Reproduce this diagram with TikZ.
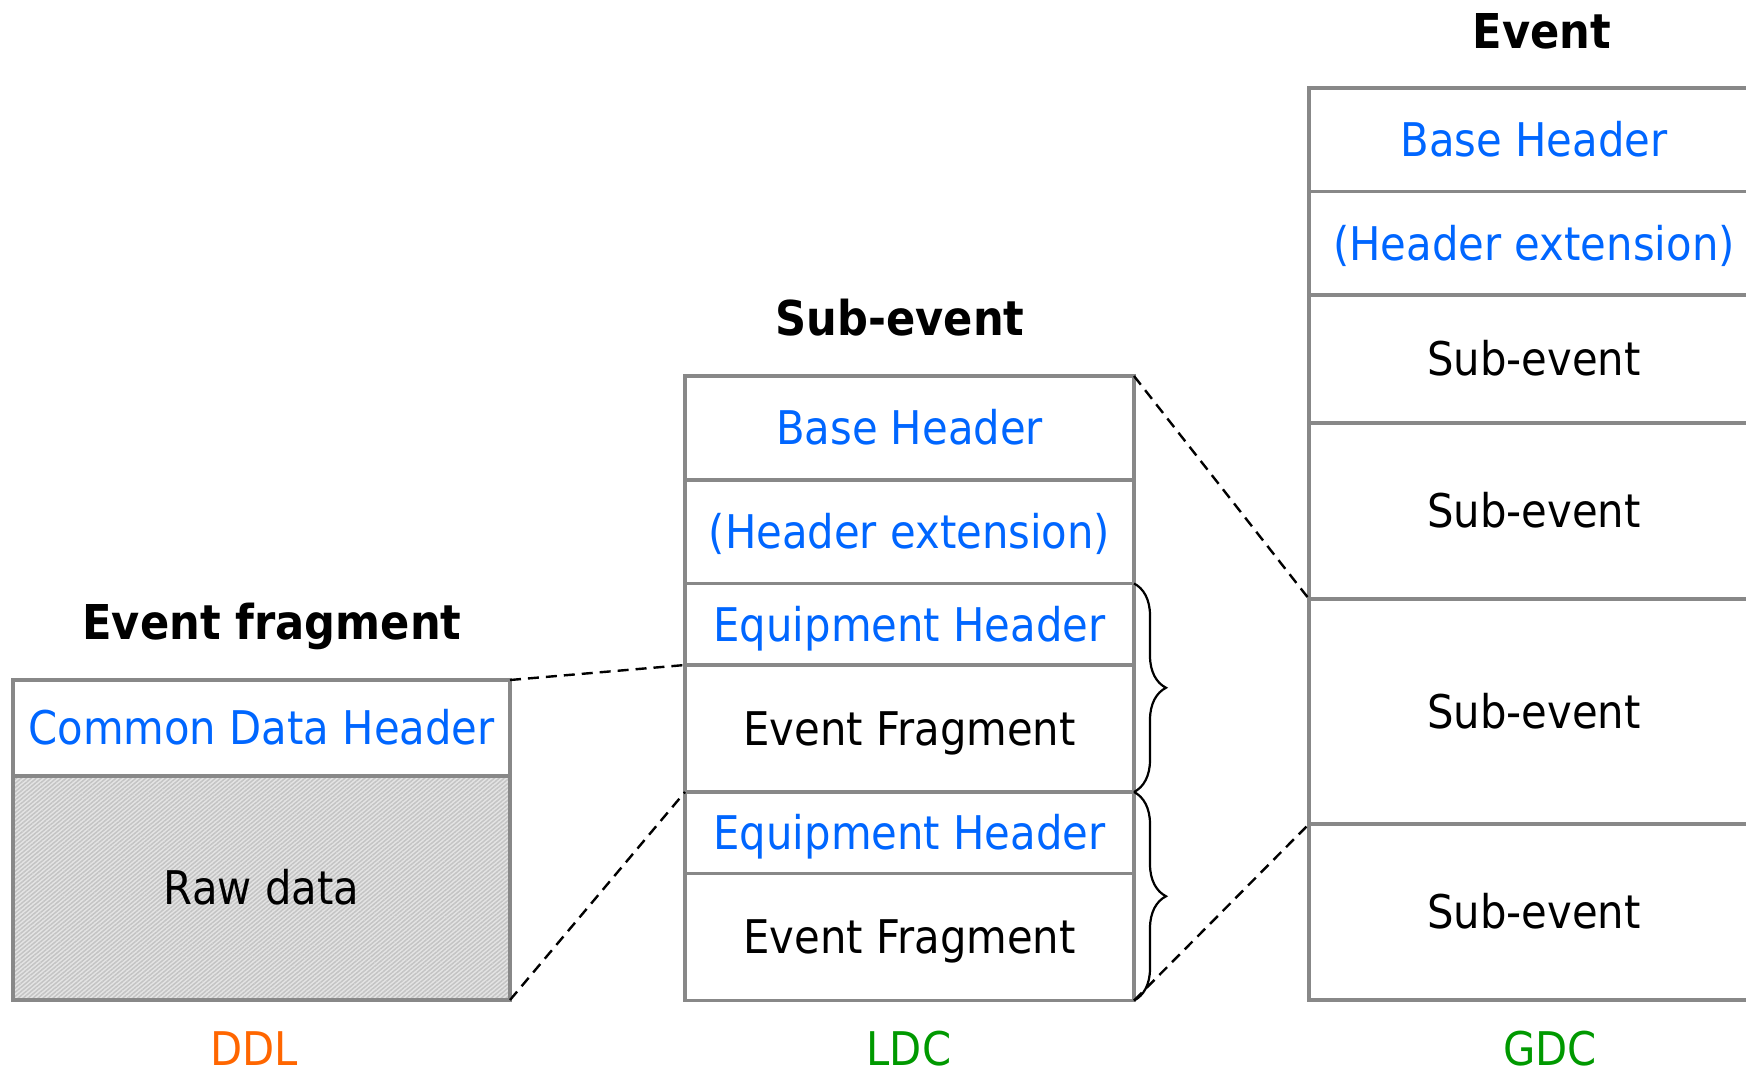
\documentclass[tikz,border=0pt]{standalone}
\usepackage{fontspec}
\setmainfont[FakeStretch=0.9]{DejaVu Sans}
\usetikzlibrary{patterns.meta,decorations.pathreplacing}
\definecolor{boxgray}{RGB}{136,136,136}
\definecolor{hdrblue}{RGB}{0,102,255}
\definecolor{ddlorange}{RGB}{255,102,0}
\definecolor{dcgreen}{RGB}{0,153,0}
\definecolor{hatchbg}{RGB}{228,228,228}
\definecolor{hatchfg}{RGB}{196,196,196}
\tikzset{
  cell/.style={draw=boxgray, line width=1.6pt, anchor=north west, inner sep=0pt, outer sep=0pt,
    font=\fontsize{23.2pt}{28pt}\selectfont, text height=16.9pt, text depth=0pt},
  hdr/.style={cell, text=hdrblue},
  rawcell/.style={cell, preaction={fill=hatchbg},
    pattern={Lines[angle=40,distance=1.6pt,line width=0.75pt]}, pattern color=hatchfg},
  titletext/.style={font=\fontsize{24pt}{29pt}\selectfont\bfseries, inner sep=0pt, text height=17.5pt, text depth=0pt},
  labeltext/.style={font=\fontsize{23.2pt}{28pt}\selectfont, inner sep=0pt, text height=16.9pt, text depth=0pt},
  zoomline/.style={dashed, dash pattern=on 5.5pt off 3.5pt, line width=1.2pt, black},
  bracedeco/.style={decorate, decoration={brace, amplitude=16pt}, line width=1.1pt, black}
}
\begin{document}
\begin{tikzpicture}[x=0.5pt,y=-0.5pt]
\useasboundingbox (0,0) rectangle (1746,1076);
\clip (0,0) rectangle (1746,1076);
% titles
\node[titletext] (tfrag) at (272,622) {Event fragment};
\node[titletext] (tsub) at (900,318) {Sub-event};
\node[titletext] (tevent) at (1542,31) {Event};
% left: event fragment (DDL)
\node[hdr, minimum width=248.5pt, minimum height=48pt] (cdh) at (13,680) {Common Data Header};
\node[rawcell, minimum width=248.5pt, minimum height=112pt] (raw) at (13,776) {Raw data};
% middle: sub-event (LDC)
\node[hdr, minimum width=224.5pt, minimum height=52pt] (mbh) at (685,376) {Base Header};
\node[hdr, minimum width=224.5pt, minimum height=51.75pt] (mhe) at (685,480) {(Header extension)};
\node[hdr, minimum width=224.5pt, minimum height=40.75pt] (eh1) at (685,583.5) {Equipment Header};
\node[cell, minimum width=224.5pt, minimum height=63.5pt] (ef1) at (685,665) {Event Fragment};
\node[hdr, minimum width=224.5pt, minimum height=40.75pt] (eh2) at (685,792) {Equipment Header};
\node[cell, minimum width=224.5pt, minimum height=63.5pt] (ef2) at (685,873.5) {Event Fragment};
% right: event (GDC)
\node[hdr, minimum width=225pt, minimum height=51.75pt] (gbh) at (1309,88) {Base Header};
\node[hdr, minimum width=225pt, minimum height=51.75pt] (ghe) at (1309,191.5) {(Header extension)};
\node[cell, minimum width=225pt, minimum height=64pt] (se1) at (1309,295) {Sub-event};
\node[cell, minimum width=225pt, minimum height=88pt] (se2) at (1309,423) {Sub-event};
\node[cell, minimum width=225pt, minimum height=112.5pt] (se3) at (1309,599) {Sub-event};
\node[cell, minimum width=225pt, minimum height=88pt] (se4) at (1309,824) {Sub-event};
% bottom labels
\node[labeltext, text=ddlorange] (ddl) at (254,1049) {DDL};
\node[labeltext, text=dcgreen] (ldc) at (909,1049) {LDC};
\node[labeltext, text=dcgreen] (gdc) at (1550,1049) {GDC};
% zoom connectors
\draw[zoomline] (cdh.north east) -- (ef1.north west);
\draw[zoomline] (raw.south east) -- (ef1.south west);
\draw[zoomline] (mbh.north east) -- (se3.north west);
\draw[zoomline] (ef2.south east) -- (se3.south west);
% braces
\draw[bracedeco] (eh1.north east) -- (ef1.south east);
\draw[bracedeco] (eh2.north east) -- (ef2.south east);
\end{tikzpicture}
\end{document}
